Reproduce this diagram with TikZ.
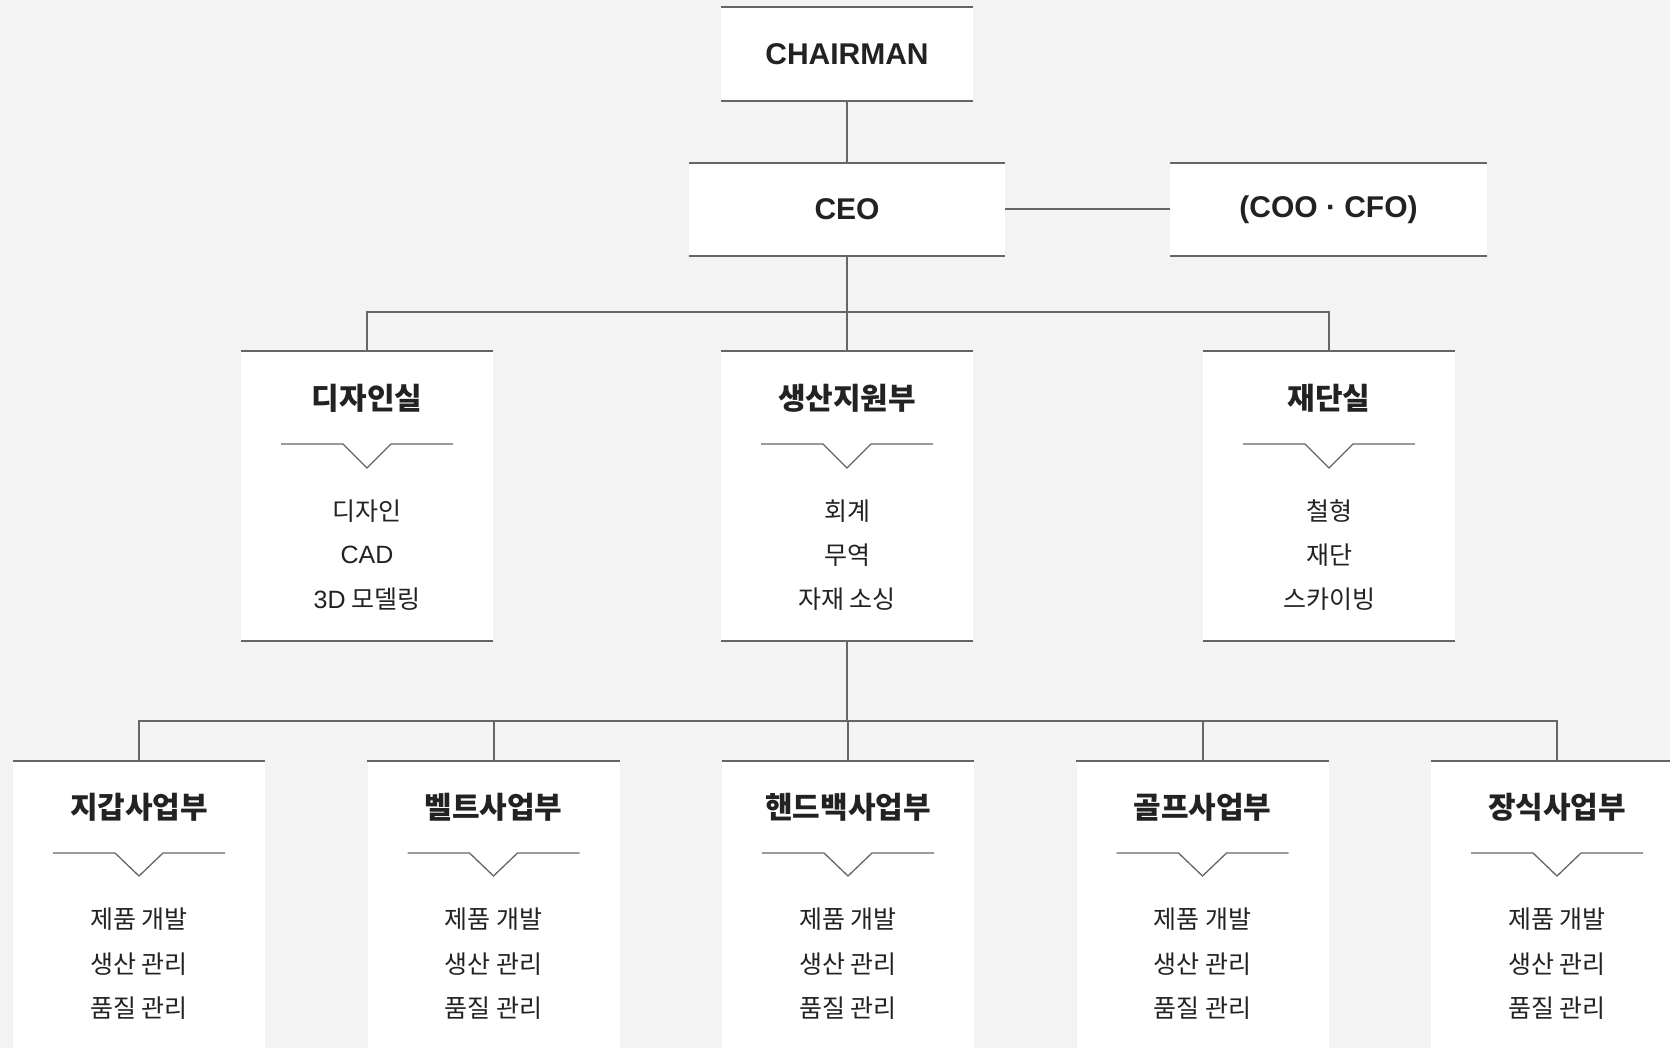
\documentclass[tikz,border=0pt]{standalone}
\usepackage{fontspec}
\setmainfont{Noto Sans CJK KR}
\newfontfamily\latin{Liberation Sans}
\definecolor{bg}{HTML}{F3F3F3}
\definecolor{linegray}{HTML}{666666}
\definecolor{ink}{HTML}{222222}
\tikzset{
    rulebar/.style={draw=linegray, line width=2pt},
    link/.style={draw=linegray, line width=2pt},
    chev/.style={draw=linegray, line width=1.3pt},
    unit/.style={fill=white, inner sep=0pt, minimum width=252pt, minimum height=93pt,
        text=ink, font=\fontsize{30}{36}\selectfont\latin\bfseries,
        append after command={(\tikzlastnode.north west) edge[rulebar] (\tikzlastnode.north east)
            (\tikzlastnode.south west) edge[rulebar] (\tikzlastnode.south east)}},
    title/.style={text=ink, inner sep=0pt, font=\fontsize{30}{36}\selectfont\bfseries},
    item/.style={text=ink, inner sep=0pt, font=\fontsize{25}{30}\selectfont}
}
\begin{document}
\begin{tikzpicture}[x=1pt,y=-1pt]
    \fill[bg] (0,0) rectangle (1670,1048);
    \useasboundingbox (0,0) rectangle (1670,1048);

    \node[unit] (chair) at (847,54) {CHAIRMAN};
    \node[unit, minimum width=316pt] (ceo) at (847,209.5) {CEO};
    \node[unit, minimum width=317pt] (coo) at (1328.5,209.5) {(COO · CFO)};
    \draw[link] (chair) -- (ceo);
    \draw[link] (ceo) -- (coo);

    % departments
    \foreach \x/\name/\head/\items in {367/design/디자인실/{디자인,{\latin CAD},{\latin 3D} 모델링},
        847/support/생산지원부/{회계,무역,자재 소싱}, 1329/cutting/재단실/{철형,재단,스카이빙}}
    {
        \node[unit, minimum height=290pt] (\name) at (\x,496) {};
        \node[title] (\name-head) at (\x,398) {\head};
        \draw[chev] (\x-86,444) -- (\x-24,444) -- (\x,468) -- (\x+24,444) -- (\x+86,444);
        \foreach \it [count=\k] in \items
            \node[item] (\name-\k) at (\x,467+44*\k) {\it};
    }
    \coordinate (fork1) at (847,312);
    \draw[link] (ceo) -- (fork1);
    \draw[link] (design.north) |- (fork1);
    \draw[link] (cutting.north) |- (fork1);
    \draw[link] (support.north) -- (fork1);

    % business units
    \foreach \name/\head [count=\i from 0] in {wallet/지갑사업부, belt/벨트사업부,
        bag/핸드백사업부, golf/골프사업부, deco/장식사업부}
    {
        \pgfmathsetmacro{\x}{139+354.5*\i}
        \node[unit, minimum height=340pt] (\name) at (\x,931) {};
        \node[title] (\name-head) at (\x,807) {\head};
        \draw[chev] (\x-86,853) -- (\x-24,853) -- (\x,876) -- (\x+24,853) -- (\x+86,853);
        \node[item] (\name-1) at (\x,919) {제품 개발};
        \node[item] (\name-2) at (\x,964) {생산 관리};
        \node[item] (\name-3) at (\x,1008) {품질 관리};
    }
    \coordinate (fork2) at (847,721);
    \draw[link] (support) -- (fork2);
    \draw[link] (wallet.north) |- (fork2);
    \draw[link] (deco.north) |- (fork2);
    \draw[link] (belt.north) -- (belt.north |- fork2);
    \draw[link] (golf.north) -- (golf.north |- fork2);
    \draw[link] (bag.north) -- (bag.north |- fork2);
\end{tikzpicture}
\end{document}
